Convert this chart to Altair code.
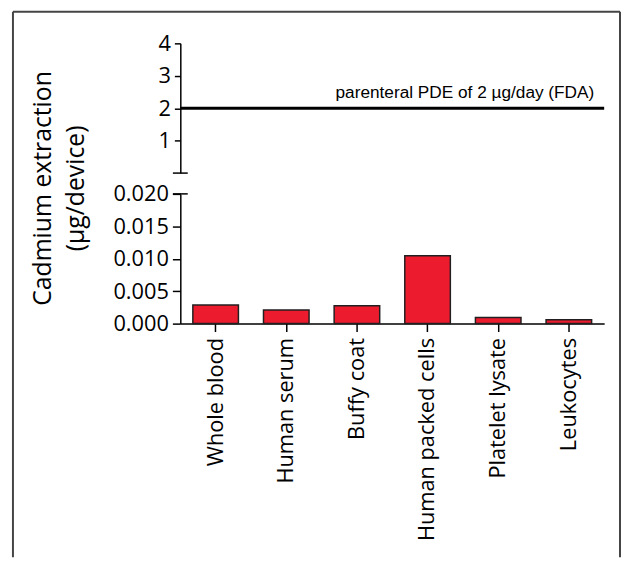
import altair as alt
import pandas as pd

categories = ["Whole blood", "Human serum", "Buffy coat", "Human packed cells", "Platelet lysate", "Leukocytes"]
values = [0.00286, 0.0021, 0.00277, 0.01046, 0.00094, 0.00058]
upper_ticks = [1, 2, 3, 4]
lower_ticks = [0.0, 0.005, 0.010, 0.015, 0.020]
pde_value = 2
pde_label = "parenteral PDE of 2 µg/day (FDA)"
y_title = ["Cadmium extraction", "(µg/device)"]

W = 428
H = 131
FONT = "Open Sans"

bars_df = pd.DataFrame({"sample": categories, "value": values})
one = alt.Data(values=[{}])

# ---------- upper panel ----------
up_scale = alt.Scale(domain=[0, 4], nice=False)
up_axis = alt.Axis(values=upper_ticks, grid=False, tickSize=6, labelPadding=4, labelOverlap=False,
                   domainColor="black", tickColor="black", domainWidth=1.5, tickWidth=1.5,
                   labelColor="black", labelFont=FONT, labelFontSize=22, title=None)

pde_rule = alt.Chart(one).mark_rule(color="black", strokeWidth=3).encode(
    y=alt.datum(pde_value, type="quantitative", scale=up_scale, axis=up_axis)
)
pde_text = alt.Chart(one).mark_text(align="right", baseline="alphabetic", dy=-10,
                                    font="Liberation Sans", fontSize=17.4, color="black").encode(
    x=alt.value(418),
    y=alt.datum(pde_value, type="quantitative", scale=up_scale, axis=up_axis),
    text=alt.value(pde_label),
)
break_up = alt.Chart(one).mark_rule(color="black", strokeWidth=1.5).encode(
    y=alt.datum(0, type="quantitative", scale=up_scale, axis=up_axis),
    x=alt.value(-7.5), x2=alt.value(7.5),
)
frame_col = "#444444"
frame_left = alt.Chart(one).mark_rule(color=frame_col, strokeWidth=2).encode(
    x=alt.value(-169), y=alt.value(-32), y2=alt.value(519))
frame_right = alt.Chart(one).mark_rule(color=frame_col, strokeWidth=2).encode(
    x=alt.value(444), y=alt.value(-32), y2=alt.value(519))
frame_top = alt.Chart(one).mark_rule(color=frame_col, strokeWidth=2).encode(
    x=alt.value(-169), x2=alt.value(444), y=alt.value(-32))

upper = alt.layer(pde_rule, pde_text, break_up, frame_left, frame_right, frame_top).properties(
    width=W, height=H)

# ---------- lower panel ----------
low_scale = alt.Scale(domain=[0, 0.02], nice=False)
low_axis = alt.Axis(values=lower_ticks, tickCount=5, format=".3f", grid=False, tickSize=8, labelPadding=4,
                    labelOverlap=False,
                    domainColor="black", tickColor="black", domainWidth=1.5, tickWidth=1.5,
                    labelColor="black", labelFont=FONT, labelFontSize=22,
                    title=y_title, titleFont=FONT, titleFontSize=25, titleFontWeight="normal",
                    titleColor="black", titleAngle=270, titleAlign="center", titleBaseline="middle",
                    titleLineHeight=33, titleX=-139, titleY=-6)
x_axis = alt.Axis(labelAngle=270, tickSize=8, labelPadding=6, labelLimit=400, labelOverlap=False,
                  domainColor="black", tickColor="black",
                  domainWidth=1.5, tickWidth=1.5, labelColor="black", labelFont=FONT,
                  labelFontSize=22, title=None, labelAlign="right", labelBaseline="middle")

bars = alt.Chart(bars_df).mark_bar(color="#EC1C2E", stroke="#231F20", strokeWidth=1.5).encode(
    x=alt.X("sample:N", sort=categories,
            scale=alt.Scale(paddingInner=0.355, paddingOuter=0.1775), axis=x_axis),
    y=alt.Y("value:Q", scale=low_scale, axis=low_axis),
)
break_low = alt.Chart(one).mark_rule(color="black", strokeWidth=1.5).encode(
    y=alt.datum(0.02, type="quantitative", scale=low_scale, axis=low_axis),
    x=alt.value(-7.5), x2=alt.value(7.5),
)
lower = alt.layer(bars, break_low).properties(width=W, height=H)

chart = alt.vconcat(upper, lower, spacing=21, bounds="flush").properties(
    padding={"left": 4, "top": 0, "right": 0, "bottom": 0},
    background="white",
).configure_view(stroke="transparent", strokeWidth=0)

chart.save("out.html", embed_options={"renderer": "svg", "actions": False})
